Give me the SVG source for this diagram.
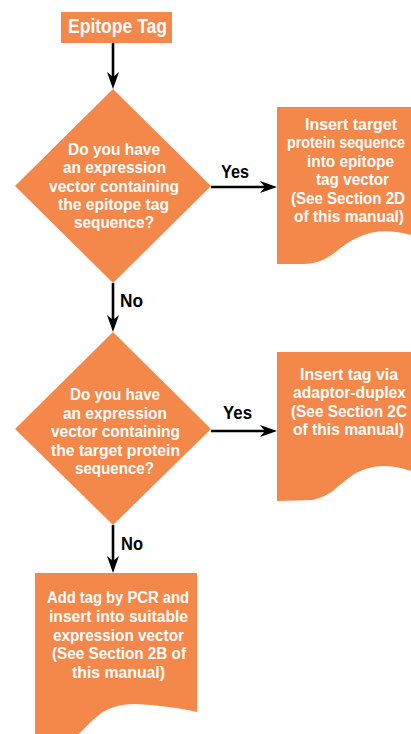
<svg xmlns="http://www.w3.org/2000/svg" width="411" height="734" viewBox="0 0 411 734">
<style>
.shape{fill:#F4874A;stroke:none}
.t{font-family:"Liberation Sans",Arial,sans-serif;font-weight:bold;font-size:16px;fill:#ffffff}
.title{font-size:20px}
.lbl{font-family:"Liberation Sans",Arial,sans-serif;font-weight:bold;font-size:19px;fill:#000000}
.conn{stroke:#000000;stroke-width:2.6;fill:none;marker-end:url(#arrow)}
</style>
<defs>
<marker id="arrow" markerUnits="userSpaceOnUse" markerWidth="18" markerHeight="14" viewBox="0 -7 18 14" refX="5" refY="0" orient="auto">
<path d="M0,-6 L17,0 L0,6 L5,0 Z" fill="#000000"/>
</marker>
</defs>
<rect width="411" height="734" fill="#ffffff"/>
<g id="connectors">
<line class="conn" x1="113" y1="43" x2="113" y2="77"/>
<line class="conn" x1="211" y1="187" x2="265" y2="187"/>
<line class="conn" x1="113" y1="283" x2="113" y2="320"/>
<line class="conn" x1="211" y1="431" x2="265" y2="431"/>
<line class="conn" x1="113" y1="525" x2="113" y2="561"/>
<text class="lbl" x="221" y="178" textLength="28" lengthAdjust="spacingAndGlyphs">Yes</text>
<text class="lbl" x="120" y="307" textLength="23" lengthAdjust="spacingAndGlyphs">No</text>
<text class="lbl" x="223" y="419" textLength="29" lengthAdjust="spacingAndGlyphs">Yes</text>
<text class="lbl" x="121" y="550" textLength="22" lengthAdjust="spacingAndGlyphs">No</text>
</g>
<g id="start">
<rect class="shape" x="61" y="12" width="111" height="31"/>
<text class="t title" x="68" y="33" textLength="99" lengthAdjust="spacingAndGlyphs">Epitope Tag</text>
</g>
<g id="decision1">
<polygon class="shape" points="113,89 211,186 113,283 15,186"/>
<text class="t" x="68" y="155" textLength="92" lengthAdjust="spacingAndGlyphs">Do you have</text>
<text class="t" x="63" y="173.3" textLength="103" lengthAdjust="spacingAndGlyphs">an expression</text>
<text class="t" x="49" y="191.6" textLength="130" lengthAdjust="spacingAndGlyphs">vector containing</text>
<text class="t" x="58" y="210" textLength="111" lengthAdjust="spacingAndGlyphs">the epitope tag</text>
<text class="t" x="74" y="228.3" textLength="80" lengthAdjust="spacingAndGlyphs">sequence?</text>
</g>
<g id="action1">
<path class="shape" d="M277,107 H411 V235 C400,232 386,230 375,232 C359,235 348,242 338,250 C328,258 320,263 305,264 L277,264 Z"/>
<text class="t" x="305" y="130" textLength="92" lengthAdjust="spacingAndGlyphs">Insert target</text>
<text class="t" x="287" y="148.4" textLength="118" lengthAdjust="spacingAndGlyphs">protein sequence</text>
<text class="t" x="307" y="166.8" textLength="87" lengthAdjust="spacingAndGlyphs">into epitope</text>
<text class="t" x="316" y="185.2" textLength="73" lengthAdjust="spacingAndGlyphs">tag vector</text>
<text class="t" x="291" y="203.6" textLength="114" lengthAdjust="spacingAndGlyphs">(See Section 2D</text>
<text class="t" x="294" y="222" textLength="110" lengthAdjust="spacingAndGlyphs">of this manual)</text>
</g>
<g id="decision2">
<polygon class="shape" points="113,332 211,429 113,525 15,429"/>
<text class="t" x="70" y="400" textLength="90" lengthAdjust="spacingAndGlyphs">Do you have</text>
<text class="t" x="63" y="418.5" textLength="104" lengthAdjust="spacingAndGlyphs">an expression</text>
<text class="t" x="51" y="437" textLength="129" lengthAdjust="spacingAndGlyphs">vector containing</text>
<text class="t" x="51" y="455.5" textLength="129" lengthAdjust="spacingAndGlyphs">the target protein</text>
<text class="t" x="75" y="474" textLength="79" lengthAdjust="spacingAndGlyphs">sequence?</text>
</g>
<g id="action2">
<path class="shape" d="M277,352 H411 V471 C400,467 390,466 382,466 C366,467 356,472 346,480 C336,488 328,497 312,500 L277,501 Z"/>
<text class="t" x="300" y="380" textLength="98" lengthAdjust="spacingAndGlyphs">Insert tag via</text>
<text class="t" x="293" y="398.3" textLength="113" lengthAdjust="spacingAndGlyphs">adaptor-duplex</text>
<text class="t" x="291" y="416.6" textLength="116" lengthAdjust="spacingAndGlyphs">(See Section 2C</text>
<text class="t" x="293" y="435" textLength="111" lengthAdjust="spacingAndGlyphs">of this manual)</text>
</g>
<g id="action3">
<path class="shape" d="M35,573 H197 V712 C180,708 158,705 135,704 C120,704 108,708 100,714 C92,720 85,728 77,736 H35 Z"/>
<text class="t" x="47" y="603" textLength="142" lengthAdjust="spacingAndGlyphs">Add tag by PCR and</text>
<text class="t" x="49" y="621.75" textLength="139" lengthAdjust="spacingAndGlyphs">insert into suitable</text>
<text class="t" x="53" y="640.5" textLength="131" lengthAdjust="spacingAndGlyphs">expression vector</text>
<text class="t" x="52" y="659.25" textLength="134" lengthAdjust="spacingAndGlyphs">(See Section 2B of</text>
<text class="t" x="72" y="678" textLength="93" lengthAdjust="spacingAndGlyphs">this manual)</text>
</g>
</svg>
